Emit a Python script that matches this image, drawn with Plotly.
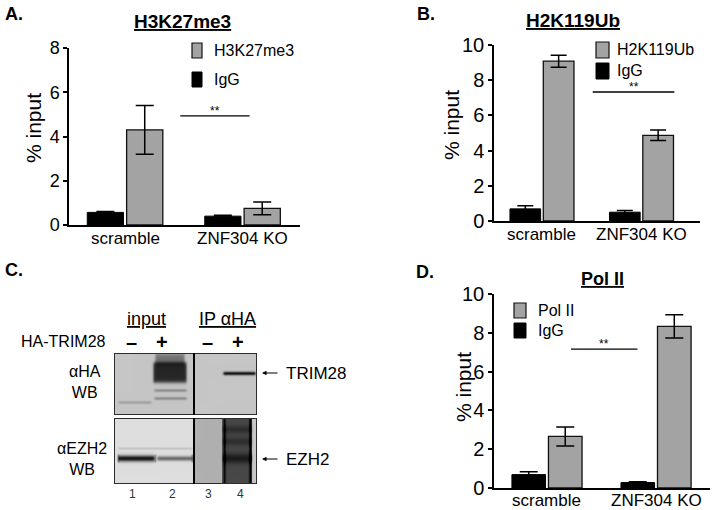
import numpy as np
import plotly.graph_objects as go

W, H = 714, 510
FONT = "Liberation Sans, Arial, sans-serif"

# ---------------- data ----------------
categories = ["scramble", "ZNF304 KO"]

a_igg = [0.57, 0.40]
a_igg_err = [0.04, 0.04]
a_mark = [4.30, 0.75]
a_mark_err = [1.10, 0.29]

b_igg = [0.69, 0.50]
b_igg_err = [0.18, 0.09]
b_mark = [9.08, 4.87]
b_mark_err = [0.34, 0.30]

d_igg = [0.69, 0.28]
d_igg_err = [0.15, 0.04]
d_mark = [2.66, 8.33]
d_mark_err = [0.49, 0.60]

panel_titles = ["H3K27me3", "H2K119Ub", "Pol II"]
mark_names = ["H3K27me3", "H2K119Ub", "Pol II"]
ytick_a = [0, 2, 4, 6, 8]
ytick_bd = [0, 2, 4, 6, 8, 10]

# significance bars: (x0, x1, y) in category units
sig_a = (0.47, 1.06, 4.93)
sig_b = (0.51, 1.33, 7.33)
sig_d = (0.22, 0.83, 7.16)

# western blot: blocks (row start, row end, col start, col end, depth, softness)
blot_blocks = [
    (0, 10, 41, 70, 85, 2.5),
    (9, 29, 39, 72, 160, 2.0),
    (64, 131, 110, 136, 20, 1.0),
]
# thin bands (row centre, row sigma, col start, col end, depth)
blot_bands = [
    (49, 1.1, 4, 37, 35),
    (37, 1.1, 40, 72, 55),
    (45, 1.1, 40, 72, 55),
    (20, 1.3, 109, 141, 175),
    (105, 2.2, 4, 40, 200),
    (105, 1.7, 43, 78, 115),
    (95, 0.9, 4, 78, 25),
    (76, 3.0, 108, 138, 25),
    (88, 3.0, 108, 138, 25),
    (105, 3.5, 108, 138, 45),
]
blot_streaks = [  # (col centre, sigma, row start, row end, depth)
    (110, 1.0, 65, 131, 70),
    (136, 1.0, 65, 131, 80),
    (4, 0.8, 101, 109, 60),
    (41, 0.8, 101, 109, 60),
    (78, 0.8, 101, 109, 70),
]
lane_numbers = ["1", "2", "3", "4"]


def X(px):
    return px / W


def Y(py):
    return 1 - py / H


fig = go.Figure()

GRAY = "#a3a3a3"


def add_panel(idx, igg, igg_err, mark, mark_err, name, capw):
    xa = "x" if idx == 1 else f"x{idx}"
    ya = "y" if idx == 1 else f"y{idx}"
    fig.add_trace(go.Bar(
        x=categories, y=igg, name="IgG", xaxis=xa, yaxis=ya,
        marker=dict(color="#000000", line=dict(color="#000000", width=1)),
        error_y=dict(type="data", array=igg_err, color="#000000", thickness=1.5, width=capw),
        showlegend=False))
    fig.add_trace(go.Bar(
        x=categories, y=mark, name=name, xaxis=xa, yaxis=ya,
        marker=dict(color=GRAY, line=dict(color="#111111", width=1.3)),
        error_y=dict(type="data", array=mark_err, color="#000000", thickness=1.5, width=capw),
        showlegend=False))


add_panel(1, a_igg, a_igg_err, a_mark, a_mark_err, mark_names[0], 9)
add_panel(2, b_igg, b_igg_err, b_mark, b_mark_err, mark_names[1], 8)
add_panel(3, d_igg, d_igg_err, d_mark, d_mark_err, mark_names[2], 9)

# ---------------- blot image ----------------
BH, BW = 131, 143
img = np.full((BH, BW), 255.0)
img[0:62, :] = 198
img[65:131, 0:80] = 222
img[65:131, 80:108] = 176
img[65:131, 108:138] = 92
img[65:131, 138:143] = 200
rows = np.arange(BH)[:, None]
cols = np.arange(BW)[None, :]


def soft_box(c, a, b, s=1.2):
    return 1 / (1 + np.exp(-(c - a) / s * 2)) * 1 / (1 + np.exp((c - b) / s * 2))


for r0, r1, c0, c1, d, s in blot_blocks:
    img -= d * soft_box(rows, r0, r1, s) * soft_box(cols, c0, c1)
for rc, rs, c0, c1, d in blot_bands:
    img -= d * np.exp(-((rows - rc) / rs) ** 2 / 2) * soft_box(cols, c0, c1)
for cc, cs, r0, r1, d in blot_streaks:
    img -= d * np.exp(-((cols - cc) / cs) ** 2 / 2) * soft_box(rows, r0, r1, 0.6)
img[62:65, :] = 255
for r0, r1 in [(0, 62), (65, 131)]:
    img[r0, :] = 45
    img[r1 - 1, :] = 45
    img[r0:r1, 0] = 45
    img[r0:r1, BW - 1] = 45
    img[r0:r1, 79:81] = 0
img = np.clip(img, 0, 255).astype(np.uint8)
rgb = np.stack([img, img, img], axis=-1)
fig.add_trace(go.Image(z=rgb, xaxis="x4", yaxis="y4", hoverinfo="skip"))

# ---------------- axes ----------------
yax_common = dict(showline=True, linecolor="#000000", linewidth=1.5, ticks="outside",
                  ticklen=4, tickwidth=1.5, tickcolor="#000000", showgrid=False,
                  zeroline=False, automargin=False)
xax_common = dict(showline=True, linecolor="#000000", linewidth=1.5, ticks="",
                  showgrid=False, zeroline=False, showticklabels=False, automargin=False)

fig.update_layout(
    width=W, height=H, margin=dict(l=0, r=0, t=0, b=0, pad=0, autoexpand=False),
    paper_bgcolor="white", plot_bgcolor="white",
    font=dict(family=FONT, color="#000000"),
    barmode="group", bargroupgap=0.08, bargap=0.33,
    showlegend=False,
    xaxis=dict(domain=[X(69), X(300)], range=[-0.477, 1.489], anchor="y", **xax_common),
    yaxis=dict(domain=[Y(225), Y(48)], range=[0, 8], tickvals=ytick_a, anchor="x",
               tickfont=dict(family=FONT, size=18, color="#000000"), **yax_common),
    xaxis2=dict(domain=[X(494), X(700)], range=[-0.482, 1.588], anchor="y2", **xax_common),
    yaxis2=dict(domain=[Y(221), Y(45)], range=[0, 10], tickvals=ytick_bd, anchor="x2",
                tickfont=dict(family=FONT, size=20, color="#000000"), **yax_common),
    xaxis3=dict(domain=[X(494), X(710)], range=[-0.486, 1.495], anchor="y3", **xax_common),
    yaxis3=dict(domain=[Y(488), Y(294)], range=[0, 10], tickvals=ytick_bd, anchor="x3",
                tickfont=dict(family=FONT, size=20, color="#000000"), **yax_common),
    xaxis4=dict(domain=[X(114), X(257)], range=[-0.5, BW - 0.5], visible=False,
                anchor="y4", automargin=False),
    yaxis4=dict(domain=[Y(484), Y(353)], range=[BH - 0.5, -0.5], visible=False,
                anchor="x4", automargin=False),
)

shapes = []
annotations = []


def ann(text, x, y, size, bold=False, xanchor="center", yanchor="middle", color="#000000", **kw):
    t = f"<b>{text}</b>" if bold else text
    annotations.append(dict(text=t, x=X(x), y=Y(y), xref="paper", yref="paper",
                            showarrow=False, xanchor=xanchor, yanchor=yanchor,
                            font=dict(family=FONT, size=size, color=color), **kw))


# category labels under each bar chart
for ax, py, size in [("", 238, 17), ("2", 235, 17), ("3", 500, 17)]:
    for c in categories:
        annotations.append(dict(text=c, x=c, y=Y(py), xref=f"x{ax}", yref="paper",
                                showarrow=False, xanchor="center", yanchor="middle",
                                font=dict(family=FONT, size=size, color="#000000")))

# significance lines
for (x0, x1, yv), ax in [(sig_a, ""), (sig_b, "2"), (sig_d, "3")]:
    shapes.append(dict(type="line", x0=x0, x1=x1, y0=yv, y1=yv, xref=f"x{ax}", yref=f"y{ax}",
                       line=dict(color="#000000", width=1.3)))
    annotations.append(dict(text="**", x=(x0 + x1) / 2, y=yv, xref=f"x{ax}", yref=f"y{ax}",
                            showarrow=False, yanchor="bottom", yshift=-4,
                            font=dict(family=FONT, size=12, color="#000000")))

# manual legends
legend_specs = [  # (box x0, x1, y gray top, y igg top, box height, text x, label)
    (192, 202, 43, 72, 15, 212, mark_names[0]),
    (596, 609, 42, 63, 16, 615, mark_names[1]),
    (514, 526, 303, 323, 15, 536, mark_names[2]),
]
for bx0, bx1, gy, iy, bh, tx, lab in legend_specs:
    shapes.append(dict(type="rect", xref="paper", yref="paper", x0=X(bx0), x1=X(bx1),
                       y0=Y(gy), y1=Y(gy + bh), fillcolor=GRAY, line=dict(color="#111111", width=1.2)))
    shapes.append(dict(type="rect", xref="paper", yref="paper", x0=X(bx0), x1=X(bx1),
                       y0=Y(iy), y1=Y(iy + bh), fillcolor="#000000", line=dict(color="#000000", width=1)))
    ann(lab, tx, gy + bh / 2, 16, xanchor="left")
    ann("IgG", tx, iy + bh / 2, 16, xanchor="left")

# y-axis titles
ann("% input", 33, 128, 21, textangle=-90)
ann("% input", 451, 125, 21, textangle=-90)
ann("% input", 463, 387, 21, textangle=-90)

# panel titles and letters
ann("<u>" + panel_titles[0] + "</u>", 182, 22, 19, bold=True)
ann("<u>" + panel_titles[1] + "</u>", 573, 21, 19, bold=True)
ann("<u>" + panel_titles[2] + "</u>", 602, 279, 18, bold=True)
ann("A.", 3, 14, 18, bold=True, xanchor="left")
ann("B.", 415, 14, 18, bold=True, xanchor="left")
ann("C.", 3, 270, 18, bold=True, xanchor="left")
ann("D.", 414, 272, 18, bold=True, xanchor="left")

# blot labels
ann("<u>input</u>", 146, 319, 18)
ann("<u>IP αHA</u>", 227, 319, 18)
ann("HA-TRIM28", 108, 341, 16, xanchor="right")
for txt, px in [("–", 131), ("+", 162), ("–", 207), ("+", 238)]:
    ann(txt, px, 342, 20, bold=True)
ann("αHA<br>WB", 85, 382, 16)
ann("αEZH2<br>WB", 82, 459, 16)
for lab, py in [("TRIM28", 373), ("EZH2", 459)]:
    annotations.append(dict(text="", x=X(262), y=Y(py), xref="paper", yref="paper",
                            showarrow=True, ax=17, ay=0, arrowhead=2, arrowsize=0.9,
                            arrowwidth=1, arrowcolor="#000000"))
    ann(lab, 284, py, 17, xanchor="left")
for lab, px in zip(lane_numbers, [132, 172, 208, 240]):
    ann(lab, px, 494, 12, color="#333333")

fig.update_layout(shapes=shapes, annotations=annotations)
fig.write_html("out.html", config={"displayModeBar": False},
               post_script="document.body.style.margin='0px';")
